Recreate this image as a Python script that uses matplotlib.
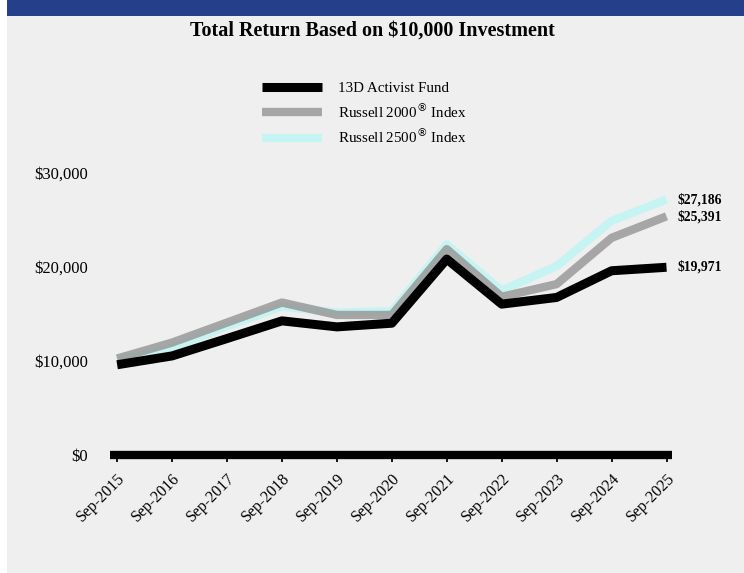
import matplotlib
matplotlib.use("Agg")
import matplotlib.pyplot as plt
from matplotlib.patches import Rectangle
from matplotlib.ticker import FuncFormatter

# Data
years = ["Sep-2015", "Sep-2016", "Sep-2017", "Sep-2018", "Sep-2019", "Sep-2020",
         "Sep-2021", "Sep-2022", "Sep-2023", "Sep-2024", "Sep-2025"]
fund = [9600, 10540, 12390, 14270, 13630, 14020, 20840, 16050, 16760, 19600, 19971]
r2000 = [10260, 11960, 14090, 16220, 14900, 14900, 21900, 16830, 18180, 23100, 25391]
r2500 = [10100, 11400, 13700, 15800, 15150, 15300, 22400, 17500, 20100, 24900, 27186]
end_labels = ["$27,186", "$25,391", "$19,971"]

plt.rcParams['font.family'] = ['Liberation Serif', 'DejaVu Serif']

bg = '#efefef'
fig = plt.figure(figsize=(7.44, 5.73), dpi=100)
fig.patch.set_facecolor('white')
fig.patches.append(Rectangle((7/744, 0), 1, 1, transform=fig.transFigure,
                             facecolor=bg, edgecolor='none', zorder=-2))
fig.patches.append(Rectangle((7/744, 1 - 16/573), 1, 16/573, transform=fig.transFigure,
                             facecolor='#263f8a', edgecolor='none', zorder=-1))

fig.text(0.5, 1 - 31/573, "Total Return Based on $10,000 Investment",
         ha='center', va='center', fontsize=14.5, fontweight='bold')

ax = fig.add_axes([110/744, (573-455)/573, 562/744, 282/573])
ax.set_facecolor('none')
x = list(range(len(years)))
ax.plot(x, r2500, color='#c6f4f2', lw=6, label='Russell 2500$^{\u00ae}$ Index',
        solid_capstyle='butt', zorder=2)
ax.plot(x, r2000, color='#999999', lw=6, alpha=0.85, label='Russell 2000$^{\u00ae}$ Index',
        solid_capstyle='butt', zorder=3)
ax.plot(x, fund, color='black', lw=6.5, label='13D Activist Fund',
        solid_capstyle='butt', zorder=4)

ax.set_xlim(-0.13, 10.1)
ax.set_ylim(0, 30000)
ax.set_yticks([0, 10000, 20000, 30000])
ax.yaxis.set_major_formatter(FuncFormatter(lambda v, p: "${:,.0f}".format(v)))
ax.set_xticks(x)
ax.set_xticklabels(years, rotation=45, ha='right', rotation_mode='anchor')
for s in ['top', 'right', 'left']:
    ax.spines[s].set_visible(False)
ax.spines['bottom'].set_linewidth(6)
ax.spines['bottom'].set_capstyle('butt')
ax.spines['bottom'].set_zorder(5)
ax.tick_params(axis='y', length=0, labelsize=12, pad=16)
ax.tick_params(axis='x', length=5, width=1.3, labelsize=11.5, pad=6)

for val, lab in zip([r2500[-1], r2000[-1], fund[-1]], end_labels):
    ax.annotate(lab, (x[-1], val), xytext=(8, 0), textcoords='offset points',
                va='center', ha='left', fontsize=9.8, fontweight='bold')

h, l = ax.get_legend_handles_labels()
leg = fig.legend(h[::-1], l[::-1], loc='upper left', bbox_to_anchor=(248/744, 1 - 68/573),
                 frameon=False, fontsize=10.8, handlelength=4.0, handletextpad=1.1,
                 labelspacing=0.42)

fig.savefig("out.png", dpi=100, facecolor=fig.get_facecolor())
